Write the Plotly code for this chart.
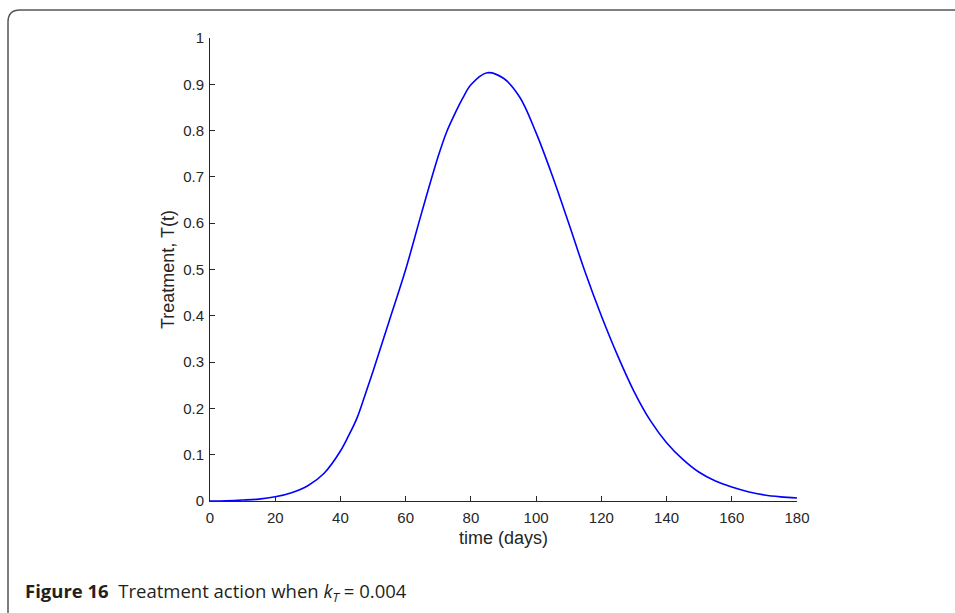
"""Treatment action curve, k_T = 0.004."""

import plotly.graph_objects as go

# time in days and treatment level
days = [0, 5, 10, 15, 20, 25, 30, 35, 40, 42.5, 45, 47.5, 50, 55, 60, 65, 70,
        72.5, 75, 77.5, 80, 85, 90, 95, 100, 105, 110, 115, 120, 125, 130,
        135, 140, 145, 150, 155, 160, 165, 170, 175, 180]
treatment = [0.0, 0.0006, 0.002, 0.004, 0.009, 0.018, 0.033, 0.060, 0.108,
             0.141, 0.178, 0.228, 0.28, 0.39, 0.50, 0.625, 0.745,
             0.796, 0.835, 0.870, 0.899, 0.925, 0.913, 0.872, 0.795, 0.702,
             0.600, 0.495, 0.40, 0.314, 0.237, 0.174, 0.126, 0.090, 0.062,
             0.043, 0.030, 0.020, 0.013, 0.009, 0.0065]

x_ticks = [0, 20, 40, 60, 80, 100, 120, 140, 160, 180]
y_ticks = [0, 0.1, 0.2, 0.3, 0.4, 0.5, 0.6, 0.7, 0.8, 0.9, 1]

W, H = 955, 613
L, R, T, B = 210, 797, 38, 501


def px_x(p):
    return (p - L) / (R - L)


def px_y(p):
    return (B - p) / (B - T)


fig = go.Figure()

fig.add_trace(go.Scatter(
    x=days,
    y=treatment,
    mode='lines',
    line=dict(color='#0000ff', width=1.6, shape='spline', smoothing=1.0),
    showlegend=False,
    hoverinfo='skip',
))

tick_font = dict(family="Liberation Sans, Arial, sans-serif", size=15, color='#262626')
title_font = dict(family="Liberation Sans, Arial, sans-serif", size=18, color='#262626')

fig.update_xaxes(
    range=[0, 180],
    tickvals=x_ticks,
    ticks='inside', ticklen=5, tickcolor='#262626', tickwidth=1,
    showline=True, linecolor='#262626', linewidth=1,
    showgrid=False, zeroline=False,
    tickfont=tick_font,
    ticklabelstandoff=3,
    title=dict(text="time (days)", font=title_font, standoff=6),
)
fig.update_yaxes(
    range=[0, 1],
    tickvals=y_ticks,
    ticktext=[f"{v:g}" for v in y_ticks],
    ticks='inside', ticklen=5, tickcolor='#262626', tickwidth=1,
    showline=True, linecolor='#262626', linewidth=1,
    showgrid=False, zeroline=False,
    tickfont=tick_font,
    ticklabelstandoff=2,
    title=dict(text="Treatment, T(t)", font=title_font, standoff=3),
)

# rounded journal frame around the figure
x0, y0, r = 8, 10, 12
frame = (f"M {px_x(x0)},{px_y(H + 20)} "
         f"L {px_x(x0)},{px_y(y0 + r)} "
         f"Q {px_x(x0)},{px_y(y0)} {px_x(x0 + r)},{px_y(y0)} "
         f"L {px_x(W + 20)},{px_y(y0)}")
fig.add_shape(type='path', path=frame, xref='paper', yref='paper',
              line=dict(color='#555555', width=1.5))

fig.add_annotation(
    text="<b>Figure 16</b>  Treatment action when <i>k</i><sub><i>T</i></sub> = 0.004",
    xref='paper', yref='paper',
    x=px_x(23), y=px_y(592),
    xanchor='left', yanchor='middle',
    showarrow=False,
    font=dict(family="Open Sans, Noto Sans, sans-serif", size=18.5, color='#231f20'),
)

fig.update_layout(
    width=W, height=H,
    margin=dict(l=L, r=W - R, t=T, b=H - B),
    plot_bgcolor='white',
    paper_bgcolor='white',
)

# drop the default page margin so the figure sits at the window origin
fig.write_html(
    "out.html",
    config={'displayModeBar': False},
    post_script="document.body.style.margin='0';document.body.style.overflow='hidden';",
)
